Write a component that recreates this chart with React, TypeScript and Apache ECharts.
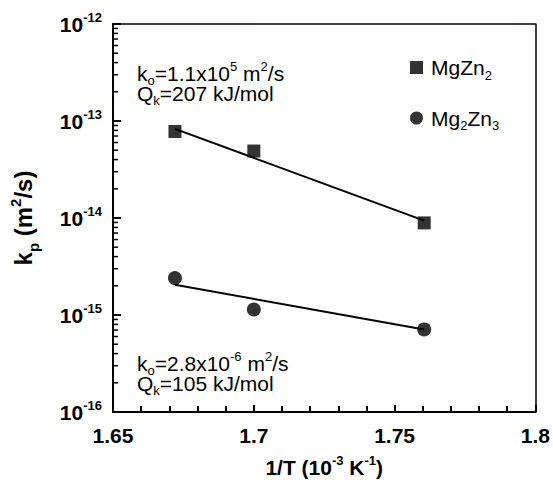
import React, { useEffect, useRef } from "react";
import * as echarts from "echarts";

const invT = [1.672, 1.7, 1.7605];
const mgZn2 = [7.8e-14, 4.9e-14, 8.9e-15];
const mg2Zn3 = [2.4e-15, 1.14e-15, 7.1e-16];
const fitMgZn2: [number, number][] = [[1.672, 8.3e-14], [1.7605, 9.4e-15]];
const fitMg2Zn3: [number, number][] = [[1.672, 2.05e-15], [1.7605, 7.1e-16]];
const minorMantissas = [2, 3, 4, 5, 6, 7, 8, 9];
const decades = [-16, -15, -14, -13];

const FONT = "'Liberation Sans', Arial, Helvetica, sans-serif";

export default function App() {
  const ref = useRef<HTMLDivElement>(null);
  useEffect(() => {
    if (!ref.current) return;
    const chart = echarts.init(ref.current, null, { renderer: "svg" });
    const minorVals: number[] = [];
    decades.forEach((d) => minorMantissas.forEach((m) => minorVals.push(m * Math.pow(10, d))));

    const boldSup = { fontSize: 13, fontWeight: "bold", fontFamily: FONT, color: "#000", verticalAlign: "top", lineHeight: 22, padding: [-2, 0, 0, 0] };
    const supRich = {
      sup: boldSup,
      base: { fontSize: 21, fontWeight: "bold", fontFamily: FONT, color: "#000", lineHeight: 22 },
    };
    const annRich = {
      n: { fontSize: 21, fontFamily: FONT, color: "#000", lineHeight: 20 },
      sub: { fontSize: 13, fontFamily: FONT, color: "#000", lineHeight: 20, verticalAlign: "bottom", padding: [0, 0, -4, 0] },
      sup: { fontSize: 13, fontFamily: FONT, color: "#000", lineHeight: 20, verticalAlign: "top", padding: [-3, 0, 0, 0] },
    };

    chart.setOption({
      animation: false,
      backgroundColor: "#fff",
      grid: { left: 103, top: 24, width: 433, height: 394, containLabel: false },
      xAxis: [
        {
          type: "value",
          min: 1.65,
          max: 1.8,
          interval: 0.05,
          axisLine: { show: true, lineStyle: { color: "#000", width: 2 } },
          axisTick: { show: true, inside: true, length: 7, lineStyle: { color: "#000", width: 2 } },
          minorTick: { show: true, splitNumber: 5, length: 6, lineStyle: { color: "#000", width: 2 } },
          splitLine: { show: false },
          axisLabel: {
            color: "#000",
            fontSize: 21,
            fontWeight: "bold",
            fontFamily: FONT,
            margin: 13,
            formatter: (v: number) => String(Math.round(v * 100) / 100),
          },
          name: "1/T (10{sup|-3} K{sup|-1})",
          nameLocation: "middle",
          nameGap: 44,
          nameTextStyle: {
            fontSize: 21,
            fontWeight: "bold",
            fontFamily: FONT,
            color: "#000",
            lineHeight: 22,
            rich: { sup: boldSup },
          },
        },
        {
          type: "value",
          position: "top",
          min: 1.65,
          max: 1.8,
          interval: 0.05,
          axisLine: { show: true, lineStyle: { color: "#000", width: 1.5 } },
          axisTick: { show: false },
          axisLabel: { show: false },
          splitLine: { show: false },
        },
      ],
      yAxis: [
        {
          type: "log",
          logBase: 10,
          min: 1e-16,
          max: 1e-12,
          axisLine: { show: true, lineStyle: { color: "#000", width: 2 } },
          axisTick: { show: true, inside: true, length: 8, lineStyle: { color: "#000", width: 2 } },
          splitLine: { show: false },
          axisLabel: {
            color: "#000",
            margin: 11,
            formatter: (v: number) => "{base|10}{sup|" + Math.round(Math.log10(v)) + "}",
            rich: supRich,
          },
          name: "k{sub|p} (m{sup|2}/s)",
          nameLocation: "middle",
          nameGap: 78,
          nameRotate: 90,
          nameTextStyle: {
            fontSize: 24,
            fontWeight: "bold",
            fontFamily: FONT,
            color: "#000",
            lineHeight: 24,
            rich: {
              sup: { fontSize: 15, fontWeight: "bold", fontFamily: FONT, color: "#000", verticalAlign: "top", lineHeight: 24, padding: [-3, 0, 0, 0] },
              sub: { fontSize: 15, fontWeight: "bold", fontFamily: FONT, color: "#000", verticalAlign: "bottom", lineHeight: 24, padding: [0, 0, -6, 0] },
            },
          },
        },
        {
          type: "log",
          logBase: 10,
          position: "right",
          min: 1e-16,
          max: 1e-12,
          axisLine: { show: true, lineStyle: { color: "#000", width: 1.5 } },
          axisTick: { show: false },
          axisLabel: { show: false },
          splitLine: { show: false },
        },
      ],
      legend: {
        orient: "vertical",
        left: 405,
        top: 52,
        itemGap: 26,
        itemWidth: 13,
        itemHeight: 13,
        data: [
          { name: "MgZn2", icon: "rect" },
          { name: "Mg2Zn3", icon: "circle" },
        ],
        formatter: (name: string) => (name === "MgZn2" ? "{n|MgZn}{sub|2}" : "{n|Mg}{sub|2}{n|Zn}{sub|3}"),
        textStyle: { rich: annRich, padding: [0, 0, 0, 3] },
      },
      series: [
        {
          name: "MgZn2",
          type: "scatter",
          symbol: "rect",
          symbolSize: 13,
          itemStyle: { color: "#000" },
          data: invT.map((x, i) => [x, mgZn2[i]]),
          z: 5,
        },
        {
          name: "Mg2Zn3",
          type: "scatter",
          symbol: "circle",
          symbolSize: 14,
          itemStyle: { color: "#000" },
          data: invT.map((x, i) => [x, mg2Zn3[i]]),
          z: 5,
        },
        {
          name: "fit1",
          type: "line",
          showSymbol: false,
          symbol: "none",
          lineStyle: { color: "#000", width: 2 },
          data: fitMgZn2,
        },
        {
          name: "fit2",
          type: "line",
          showSymbol: false,
          symbol: "none",
          lineStyle: { color: "#000", width: 2 },
          data: fitMg2Zn3,
        },
        {
          name: "minorTicks",
          type: "custom",
          silent: true,
          clip: false,
          data: minorVals.map((v) => [1.65, v]),
          renderItem: (params: any, api: any) => {
            const p = api.coord([1.65, api.value(1)]);
            return {
              type: "line",
              shape: { x1: p[0], y1: p[1], x2: p[0] + 5, y2: p[1] },
              style: { stroke: "#000", lineWidth: 1.5 },
            };
          },
        },
      ],
      graphic: [
        {
          type: "text",
          left: 137,
          top: 60,
          style: {
            text: "{n|k}{sub|o}{n|=1.1x10}{sup|5}{n| m}{sup|2}{n|/s}\n{n|Q}{sub|k}{n|=207 kJ/mol}",
            rich: annRich,
          },
        },
        {
          type: "text",
          left: 137,
          top: 350,
          style: {
            text: "{n|k}{sub|o}{n|=2.8x10}{sup|-6}{n| m}{sup|2}{n|/s}\n{n|Q}{sub|k}{n|=105 kJ/mol}",
            rich: annRich,
          },
        },
      ],
    });
    return () => chart.dispose();
  }, []);
  return <div ref={ref} style={{ position: "fixed", left: 0, top: 0, width: 553, height: 483 }} />;
}
